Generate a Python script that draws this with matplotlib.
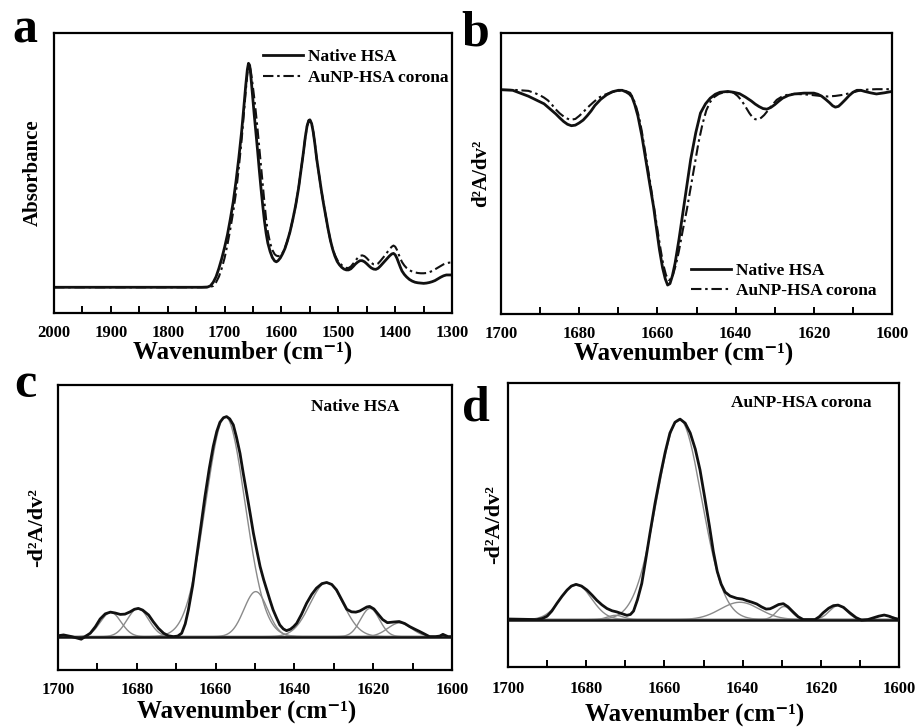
import numpy as np
import matplotlib

matplotlib.use("Agg")
from matplotlib import pyplot as plt
from matplotlib.ticker import MultipleLocator

plt.rcParams["font.family"] = ["Liberation Serif", "DejaVu Serif"]
plt.rcParams["font.weight"] = "bold"
plt.rcParams["axes.labelweight"] = "bold"

# ---- panel a: FTIR absorbance (relative units) ----
wn_a = [2000, 1900, 1800, 1740, 1730, 1725, 1720, 1715, 1710, 1705,
        1700, 1695, 1690, 1685, 1680, 1675, 1670, 1666, 1663, 1660,
        1658, 1656, 1654, 1651, 1648, 1645, 1642, 1639, 1636, 1633,
        1630, 1627, 1624, 1620, 1616, 1612, 1609, 1606, 1602, 1598,
        1594, 1590, 1585, 1580, 1575, 1570, 1566, 1562, 1558, 1555,
        1552, 1550, 1547, 1544, 1541, 1538, 1534, 1530, 1526, 1522,
        1518, 1514, 1510, 1506, 1502, 1498, 1494, 1490, 1486, 1482,
        1478, 1474, 1470, 1466, 1462, 1458, 1454, 1450, 1446, 1442,
        1438, 1434, 1430, 1426, 1422, 1418, 1414, 1410, 1406, 1403,
        1400, 1397, 1394, 1391, 1388, 1384, 1380, 1375, 1370, 1365,
        1360, 1355, 1350, 1345, 1340, 1335, 1330, 1325, 1320, 1315,
        1310, 1305, 1300]
abs_native = [0.092, 0.092, 0.092, 0.092, 0.093, 0.097, 0.11, 0.13, 0.16, 0.195,
              0.235, 0.28, 0.335, 0.395, 0.47, 0.555, 0.65, 0.74, 0.81, 0.87,
              0.892, 0.885, 0.85, 0.78, 0.71, 0.645, 0.58, 0.51, 0.445, 0.385,
              0.33, 0.285, 0.25, 0.22, 0.198, 0.186, 0.183, 0.187, 0.197, 0.212,
              0.23, 0.255, 0.29, 0.335, 0.385, 0.445, 0.505, 0.565, 0.63, 0.668,
              0.688, 0.69, 0.677, 0.645, 0.6, 0.55, 0.495, 0.44, 0.39, 0.345,
              0.3, 0.26, 0.228, 0.203, 0.184, 0.172, 0.163, 0.157, 0.154, 0.154,
              0.158, 0.166, 0.175, 0.182, 0.187, 0.187, 0.183, 0.176, 0.168, 0.161,
              0.157, 0.156, 0.16, 0.168, 0.177, 0.186, 0.195, 0.204, 0.211, 0.213,
              0.208, 0.196, 0.18, 0.164, 0.15, 0.138, 0.129, 0.12, 0.114, 0.11,
              0.108, 0.107, 0.106, 0.107, 0.109, 0.112, 0.116, 0.122, 0.128, 0.133,
              0.136, 0.136, 0.136]
abs_corona = [0.092, 0.092, 0.092, 0.092, 0.092, 0.093, 0.097, 0.11, 0.13, 0.16,
              0.197, 0.245, 0.30, 0.36, 0.43, 0.52, 0.62, 0.715, 0.79, 0.855,
              0.885, 0.885, 0.865, 0.82, 0.77, 0.715, 0.655, 0.59, 0.525, 0.46,
              0.395, 0.335, 0.29, 0.25, 0.225, 0.21, 0.205, 0.203, 0.205, 0.215,
              0.232, 0.255, 0.29, 0.335, 0.385, 0.445, 0.505, 0.565, 0.63, 0.668,
              0.688, 0.69, 0.677, 0.645, 0.6, 0.55, 0.495, 0.44, 0.39, 0.345,
              0.3, 0.26, 0.228, 0.207, 0.19, 0.18, 0.171, 0.165, 0.161, 0.161,
              0.166, 0.176, 0.187, 0.197, 0.204, 0.206, 0.203, 0.196, 0.187, 0.179,
              0.174, 0.173, 0.177, 0.186, 0.196, 0.206, 0.217, 0.228, 0.237, 0.241,
              0.237, 0.226, 0.21, 0.195, 0.182, 0.17, 0.161, 0.153, 0.148, 0.145,
              0.143, 0.142, 0.142, 0.143, 0.146, 0.15, 0.156, 0.162, 0.168, 0.174,
              0.178, 0.18, 0.18]

# ---- panel b: second derivative ----
wn_b_native = [1700, 1697, 1693, 1689, 1687.5, 1686, 1685, 1684, 1683, 1682,
               1681, 1680, 1679, 1678, 1677, 1676, 1674.5, 1673, 1671.5, 1670,
               1669, 1668, 1667.2, 1666.5, 1665.8, 1665, 1664, 1663, 1662, 1661,
               1660.2, 1659.5, 1658.7, 1658, 1657.4, 1656.8, 1656.2, 1655.5, 1654.5, 1653.5,
               1652.5, 1651.5, 1650.2, 1649, 1647.7, 1646.5, 1645.2, 1644, 1642, 1640.5,
               1639, 1637.5, 1636, 1635, 1634, 1633, 1632, 1631, 1630, 1629,
               1628, 1626.5, 1625, 1622.5, 1620, 1619, 1618, 1617, 1616, 1615.2,
               1614.5, 1613.7, 1613, 1612, 1611, 1610, 1609, 1608, 1607, 1605.5,
               1604, 1602, 1600]
d2_native = [0.798, 0.796, 0.775, 0.748, 0.73, 0.712, 0.698, 0.685, 0.675, 0.670,
             0.672, 0.680, 0.69, 0.705, 0.722, 0.742, 0.764, 0.780, 0.791, 0.796,
             0.796, 0.790, 0.783, 0.772, 0.745, 0.705, 0.635, 0.55, 0.465, 0.382,
             0.30, 0.23, 0.165, 0.125, 0.103, 0.108, 0.135, 0.18, 0.265, 0.36,
             0.455, 0.55, 0.645, 0.715, 0.748, 0.768, 0.782, 0.789, 0.792, 0.789,
             0.784, 0.772, 0.758, 0.747, 0.738, 0.731, 0.729, 0.735, 0.745, 0.757,
             0.768, 0.778, 0.783, 0.786, 0.786, 0.782, 0.775, 0.764, 0.752, 0.741,
             0.736, 0.739, 0.748, 0.762, 0.777, 0.789, 0.796, 0.796, 0.792, 0.787,
             0.783, 0.787, 0.792]
wn_b_corona = [1700, 1696, 1693, 1691.5, 1690, 1689, 1688, 1687, 1686, 1685,
               1684, 1683, 1682.3, 1681, 1680, 1679, 1678, 1676.5, 1675, 1673.5,
               1672, 1670.5, 1669, 1668, 1667, 1666.2, 1665.5, 1664.7, 1664, 1663,
               1662, 1661, 1660, 1659.2, 1658.5, 1657.8, 1657.1, 1656.5, 1656, 1655.2,
               1654.5, 1653.5, 1652.5, 1651.5, 1650.5, 1649.5, 1648.5, 1647.5, 1646.5, 1645.5,
               1644.3, 1643, 1641.5, 1640.5, 1639.5, 1638.5, 1637.5, 1636.5, 1635.7, 1635,
               1634.2, 1633.5, 1632.7, 1632, 1631, 1629.5, 1628, 1626.5, 1625, 1623,
               1621, 1619, 1616.5, 1614.5, 1612.5, 1610.5, 1608, 1606, 1604, 1600]
d2_corona = [0.798, 0.797, 0.794, 0.787, 0.778, 0.770, 0.760, 0.745, 0.728, 0.714,
             0.703, 0.695, 0.691, 0.694, 0.705, 0.718, 0.733, 0.752, 0.77, 0.78,
             0.788, 0.793, 0.796, 0.793, 0.787, 0.768, 0.74, 0.70, 0.65, 0.565,
             0.48, 0.39, 0.30, 0.23, 0.175, 0.138, 0.121, 0.125, 0.14, 0.18,
             0.225, 0.30, 0.37, 0.45, 0.53, 0.61, 0.675, 0.725, 0.755, 0.772,
             0.783, 0.789, 0.79, 0.787, 0.776, 0.76, 0.738, 0.715, 0.700, 0.693,
             0.693, 0.698, 0.708, 0.72, 0.738, 0.762, 0.775, 0.781, 0.783, 0.782,
             0.78, 0.777, 0.774, 0.776, 0.78, 0.787, 0.796, 0.799, 0.80, 0.80]

# ---- panel c: native HSA, -d2A/dv2 and fitted bands ----
wn_c = [1700, 1698.6, 1696.5, 1694.1, 1691.8, 1690.5, 1689.3, 1688, 1686.7, 1685.5,
        1684.2, 1683, 1681.7, 1680.6, 1679.6, 1678.5, 1677, 1675.8, 1674.5, 1673.2,
        1672, 1670.7, 1669.6, 1668.6, 1667.7, 1666.9, 1665.8, 1664.8, 1663.7, 1662.7,
        1661.6, 1660.6, 1659.7, 1658.9, 1658, 1657.2, 1656.4, 1655.5, 1654.7, 1653.8,
        1653, 1652.1, 1651.2, 1650.4, 1649.5, 1648.7, 1647.8, 1647, 1646.2, 1645.4,
        1644.5, 1643.7, 1642.8, 1642, 1641, 1640.2, 1639.4, 1638.2, 1636.9, 1635.6,
        1634.4, 1633, 1631.8, 1630.5, 1629.3, 1628, 1626.7, 1625.5, 1624.4, 1623.4,
        1622.5, 1621.6, 1620.9, 1619.8, 1618.8, 1617.6, 1616.4, 1615, 1613.4, 1612,
        1610.7, 1609.4, 1608.2, 1606.8, 1605.7, 1604.2, 1603.1, 1602.3, 1601, 1600]
neg_d2_c = [0.003, 0.006, 0.0, -0.009, 0.012, 0.035, 0.062, 0.08, 0.086, 0.083,
            0.078, 0.079, 0.087, 0.096, 0.099, 0.093, 0.076, 0.052, 0.029, 0.012,
            0.003, 0.0, 0.002, 0.012, 0.045, 0.094, 0.18, 0.281, 0.39, 0.491,
            0.59, 0.667, 0.72, 0.752, 0.768, 0.772, 0.764, 0.743, 0.70, 0.643,
            0.575, 0.503, 0.43, 0.363, 0.30, 0.246, 0.20, 0.164, 0.128, 0.094,
            0.065, 0.041, 0.027, 0.021, 0.026, 0.035, 0.047, 0.078, 0.117, 0.148,
            0.170, 0.186, 0.190, 0.183, 0.164, 0.13, 0.096, 0.087, 0.086, 0.09,
            0.097, 0.104, 0.106, 0.097, 0.08, 0.06, 0.049, 0.051, 0.053, 0.046,
            0.035, 0.026, 0.018, 0.008, 0.0, 0.0, 0.002, 0.008, 0.0, 0.0]
band_center_c = [1686.6, 1679.7, 1657.5, 1649.8, 1631.8, 1620.8, 1613.3]
band_height_c = [0.085, 0.099, 0.772, 0.158, 0.190, 0.099, 0.048]
band_width_c = [2.6, 2.7, 5.0, 3.0, 4.2, 2.4, 3.0]

# ---- panel d: AuNP-HSA corona ----
wn_d = [1700, 1696, 1692.6, 1691.2, 1690, 1688.8, 1687.5, 1686.2, 1684.9, 1683.8,
        1682.6, 1681.2, 1679.8, 1678.5, 1677.3, 1676, 1674.7, 1673.4, 1672.2, 1670.9,
        1669.6, 1668.7, 1667.9, 1666.9, 1665.8, 1664.8, 1663.7, 1662.4, 1661.1, 1659.8,
        1658.6, 1657.3, 1656, 1654.7, 1653.4, 1652.1, 1650.9, 1649.7, 1648.5, 1647.5,
        1646.5, 1645.5, 1644.5, 1643.2, 1641.5, 1640, 1639, 1637.6, 1636.4, 1635.2,
        1634, 1633, 1632.2, 1630.8, 1629.6, 1628.4, 1627.1, 1625.8, 1624.5, 1621.5,
        1620.4, 1619.4, 1618, 1616.8, 1615.6, 1614.2, 1612.6, 1611, 1609.6, 1608,
        1606.6, 1605.2, 1603.8, 1602.6, 1601.5, 1600]
neg_d2_d = [0.002, 0.001, 0.0, 0.004, 0.012, 0.03, 0.057, 0.082, 0.104, 0.118,
            0.124, 0.118, 0.104, 0.086, 0.068, 0.052, 0.039, 0.031, 0.027, 0.021,
            0.015, 0.018, 0.03, 0.07, 0.127, 0.21, 0.304, 0.41, 0.504, 0.59,
            0.657, 0.695, 0.706, 0.692, 0.657, 0.60, 0.527, 0.43, 0.33, 0.24,
            0.17, 0.125, 0.097, 0.083, 0.075, 0.072, 0.067, 0.061, 0.055, 0.045,
            0.037, 0.038, 0.043, 0.053, 0.056, 0.045, 0.027, 0.01, 0.0, 0.0,
            0.01, 0.024, 0.04, 0.049, 0.051, 0.043, 0.024, 0.007, -0.002, 0.0,
            0.006, 0.012, 0.016, 0.012, 0.006, 0.0]
band_center_d = [1682.6, 1672.5, 1656.2, 1640.7, 1629.4, 1615.6, 1603.6]
band_height_d = [0.124, 0.015, 0.706, 0.061, 0.046, 0.049, 0.015]
band_width_d = [3.9, 2.0, 5.7, 5.0, 1.9, 2.2, 2.0]

SPEC_COLOR = "#111111"
BAND_COLOR = "#8a8a8a"
DASHDOT = (0, (5, 1.8, 1.2, 1.8))
XLABEL = "Wavenumber (cm⁻¹)"


def style_axes(ax, xlim, ylim, major, minor, ylabel, ylabel_size,
               ylabel_pad=8, tick_pad=8.5, xlabel_pad=0, xlabel_x=0.5):
    ax.set_xlim(*xlim)
    ax.set_ylim(*ylim)
    ax.xaxis.set_major_locator(MultipleLocator(major))
    ax.xaxis.set_minor_locator(MultipleLocator(minor))
    ax.tick_params(axis="x", which="both", direction="in", length=5,
                   width=1.4, top=False, labelsize=12, pad=tick_pad)
    ax.set_yticks([])
    for spine in ax.spines.values():
        spine.set_linewidth(1.6)
    ax.set_xlabel(XLABEL, fontsize=18, fontweight="bold", labelpad=xlabel_pad)
    ax.xaxis.label.set_x(xlabel_x)
    ax.set_ylabel(ylabel, fontsize=ylabel_size, fontweight="bold",
                  labelpad=ylabel_pad)


def draw_bands(ax, centers, heights, widths):
    grid = np.linspace(1600, 1700, 801)
    for c, h, w in zip(centers, heights, widths):
        ax.plot(grid, h * np.exp(-((grid - c) ** 2) / (2 * w ** 2)),
                color=BAND_COLOR, lw=1.0, zorder=2)
    ax.axhline(0, color=SPEC_COLOR, lw=1.8, zorder=3)


fig = plt.figure(figsize=(9.19, 7.28), dpi=100)

ax_a = fig.add_axes([0.0588, 0.570, 0.4331, 0.3846])
ax_a.plot(wn_a, abs_native, color=SPEC_COLOR, lw=2.0, label="Native HSA")
ax_a.plot(wn_a, abs_corona, color=SPEC_COLOR, lw=1.5, ls=DASHDOT,
          label="AuNP-HSA corona")
style_axes(ax_a, (2000, 1300), (0, 1), 100, 50, "Absorbance", 15,
           tick_pad=8.6, xlabel_pad=-0.6, xlabel_x=0.474)
ax_a.legend(loc="upper right", bbox_to_anchor=(1.0, 0.955), frameon=False,
            fontsize=12.5, handlelength=2.3, handletextpad=0.3,
            labelspacing=0.25, borderaxespad=0.1, borderpad=0.1)

ax_b = fig.add_axes([0.5452, 0.5687, 0.4255, 0.386])
ax_b.plot(wn_b_native, d2_native, color=SPEC_COLOR, lw=2.0, label="Native HSA")
ax_b.plot(wn_b_corona, d2_corona, color=SPEC_COLOR, lw=1.5, ls=DASHDOT,
          label="AuNP-HSA corona")
style_axes(ax_b, (1700, 1600), (0, 1), 20, 10, "d²A/dv²", 15, 7,
           tick_pad=9, xlabel_pad=-1, xlabel_x=0.468)
ax_b.legend(loc="lower right", bbox_to_anchor=(0.97, 0.04), frameon=False,
            fontsize=12.5, handlelength=2.3, handletextpad=0.3,
            labelspacing=0.25, borderaxespad=0.1, borderpad=0.1)

ax_c = fig.add_axes([0.0631, 0.0797, 0.4287, 0.3915])
draw_bands(ax_c, band_center_c, band_height_c, band_width_c)
ax_c.plot(wn_c, neg_d2_c, color=SPEC_COLOR, lw=2.0, zorder=4)
style_axes(ax_c, (1700, 1600), (-0.117, 0.883), 20, 10, "-d²A/dv²", 16,
           tick_pad=8.5, xlabel_pad=1.4, xlabel_x=0.48)
ax_c.text(0.754, 0.923, "Native HSA", transform=ax_c.transAxes,
          ha="center", va="center", fontsize=12.5)

ax_d = fig.add_axes([0.5528, 0.0838, 0.4255, 0.390])
draw_bands(ax_d, band_center_d, band_height_d, band_width_d)
ax_d.plot(wn_d, neg_d2_d, color=SPEC_COLOR, lw=2.0, zorder=4)
style_axes(ax_d, (1700, 1600), (-0.167, 0.833), 20, 10, "-d²A/dv²", 16, 3,
           tick_pad=10.4, xlabel_pad=3.5, xlabel_x=0.478)
ax_d.text(0.749, 0.93, "AuNP-HSA corona", transform=ax_d.transAxes,
          ha="center", va="center", fontsize=12.5)

for letter, x, y in [("a", 0.013, 0.941), ("b", 0.5016, 0.938),
                     ("c", 0.016, 0.4547), ("d", 0.503, 0.423)]:
    fig.text(x, y, letter, fontsize=36, fontweight="bold", va="baseline")

fig.savefig("out.png", dpi=100)
